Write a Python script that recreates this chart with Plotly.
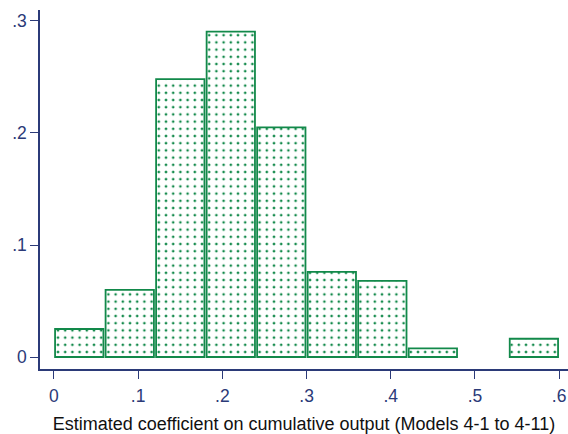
import plotly.graph_objects as go

bin_left = [0.00, 0.06, 0.12, 0.18, 0.24, 0.30, 0.36, 0.42, 0.48, 0.54]
fraction = [0.025, 0.060, 0.248, 0.2905, 0.205, 0.076, 0.068, 0.0077, 0.0, 0.0163]
bin_width = 0.06
x_ticks = [0, 0.1, 0.2, 0.3, 0.4, 0.5, 0.6]
x_ticklabels = ["0", ".1", ".2", ".3", ".4", ".5", ".6"]
y_ticks = [0, 0.1, 0.2, 0.3]
y_ticklabels = ["0", ".1", ".2", ".3"]
x_title = "Estimated coefficient on cumulative output (Models 4-1 to 4-11)"

green = "#12894a"
navy = "#2b3a78"

xs = [b + bin_width / 2 for b in bin_left]
keep = [i for i, v in enumerate(fraction) if v > 0]

fig = go.Figure(go.Bar(
    x=[xs[i] for i in keep],
    y=[fraction[i] for i in keep],
    width=bin_width - 0.0026,
    marker=dict(
        color="white",
        line=dict(color=green, width=1.8),
        pattern=dict(shape=".", fgcolor=green, bgcolor="white", size=7.2, solidity=0.11, fillmode="replace"),
    ),
    hoverinfo="skip",
))

fig.update_layout(
    width=568, height=434,
    margin=dict(l=40, r=0, t=10, b=65),
    paper_bgcolor="white", plot_bgcolor="white",
    showlegend=False,
    font=dict(family="Liberation Sans, Arial, sans-serif", size=17, color=navy),
    xaxis=dict(
        range=[-0.0166, 0.6105],
        tickvals=x_ticks, ticktext=x_ticklabels,
        ticks="outside", ticklen=8, tickwidth=1.3, tickcolor=navy,
        showline=True, linecolor=navy, linewidth=1.5,
        showgrid=False, zeroline=False,
        tickfont=dict(size=17.5, color=navy),
        ticklabelstandoff=2,
        title=dict(text=x_title, font=dict(size=18, color="#111111"), standoff=14),
    ),
    yaxis=dict(
        range=[-0.0107, 0.3098],
        tickvals=y_ticks, ticktext=y_ticklabels,
        ticks="outside", ticklen=8, tickwidth=1.3, tickcolor=navy,
        showline=True, linecolor=navy, linewidth=1.5,
        showgrid=False, zeroline=False,
        tickfont=dict(size=17.5, color=navy),
    ),
)

fig.write_html("out.html")
